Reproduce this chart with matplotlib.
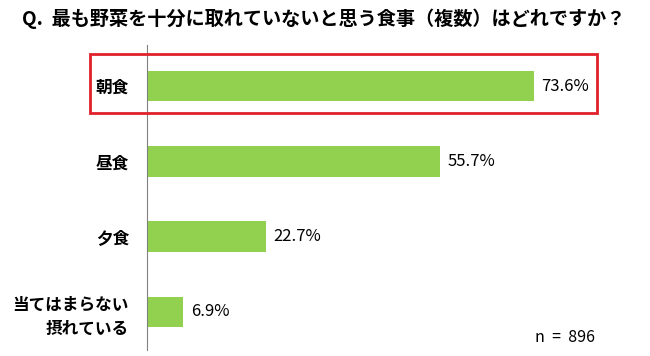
import matplotlib.pyplot as plt
from matplotlib.patches import Rectangle

plt.rcParams['font.family'] = ['Noto Sans CJK JP', 'DejaVu Sans']

# Data
categories = ['朝食', '昼食', '夕食', '当てはまらない\n摂れている']
values = [73.6, 55.7, 22.7, 6.9]
title = 'Q.  最も野菜を十分に取れていないと思う食事（複数）はどれですか？'
n_label = 'n  =  896'

W, H = 650, 356
fig = plt.figure(figsize=(W / 100, H / 100), dpi=100)
ax = fig.add_axes([147 / W, 6 / H, 453 / W, 305 / H])

ypos = list(range(len(categories)))
ax.barh(ypos, values, height=0.41, color='#92D050', zorder=2)
ax.set_xlim(0, 86.1)
ax.set_ylim(3.505, -0.545)

for y, v in zip(ypos, values):
    ax.text(v + 1.4, y, f'{v:.1f}%', va='center', ha='left', fontsize=12)

ax.set_yticks(ypos)
ax.set_yticklabels(categories, fontsize=12, fontweight='bold', linespacing=1.45)
ax.tick_params(axis='y', length=0, pad=13)
ax.set_xticks([])
for s in ['top', 'right', 'bottom']:
    ax.spines[s].set_visible(False)
ax.spines['left'].set_color('#808080')
ax.spines['left'].set_linewidth(0.8)

# title
fig.text(22 / W, 1 - 19 / H, title, fontsize=13.8, fontweight='bold',
         va='center', ha='left')

# n label
fig.text(595 / W, 1 - 337 / H, n_label, fontsize=11.5, va='center', ha='right')

# red highlight box around first category
fig.patches.append(Rectangle((90 / W, 1 - 113 / H), 507 / W, 59 / H,
                             transform=fig.transFigure, fill=False,
                             edgecolor='#E0202A', linewidth=2))

fig.savefig('out.png', dpi=100)
